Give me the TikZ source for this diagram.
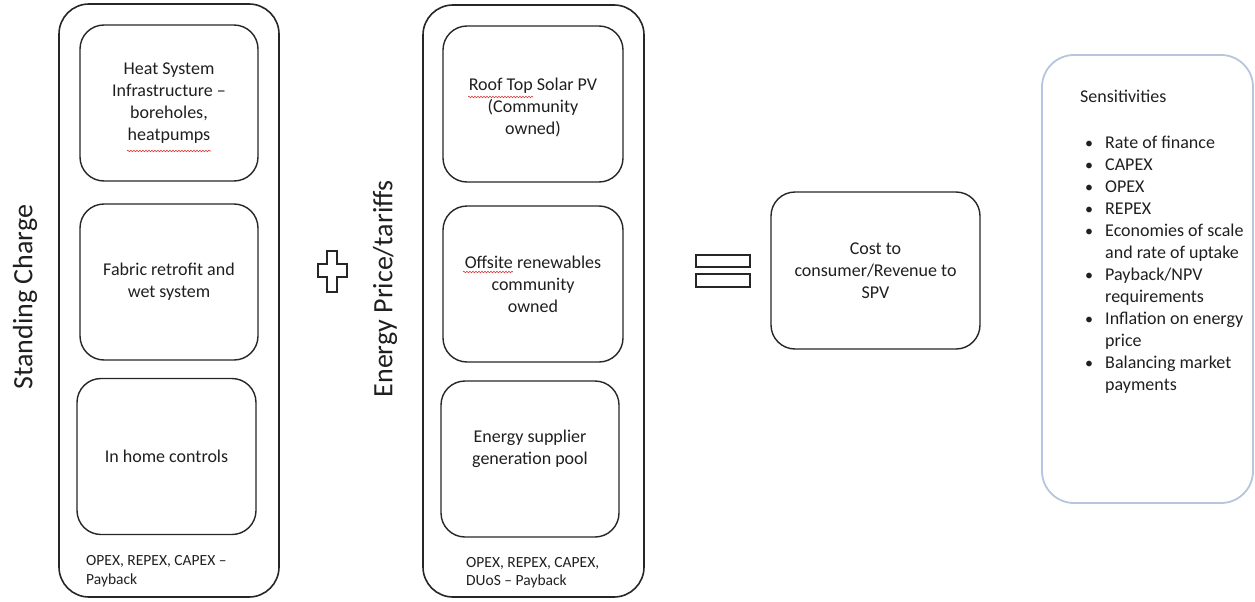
\documentclass[tikz,border=0pt]{standalone}
\usepackage{fontspec}
\setmainfont{Carlito}
\usetikzlibrary{decorations.pathmorphing}
\definecolor{sensblue}{RGB}{182,198,220}
\definecolor{spellred}{RGB}{215,60,60}
\begin{document}
\begin{tikzpicture}[x=1pt,y=-1pt,
  outerbox/.style={draw=black!85, line width=1.6pt, rounded corners=30pt, inner sep=0pt, minimum height=593pt},
  innerbox/.style={draw=black!85, line width=1.4pt, rounded corners=24pt, minimum width=178pt, minimum height=156pt, align=center, inner sep=0pt, font=\fontsize{18}{22}\selectfont, text=black!88},
  boxtext/.style={align=center, inner sep=0pt, font=\fontsize{18}{22}\selectfont, text=black!88},
  bigtext/.style={rotate=90, font=\fontsize{28}{32}\selectfont, text=black!88},
  smalltext/.style={anchor=west, align=left, font=\fontsize{15.5}{18.5}\selectfont, text=black!88, inner sep=0pt},
  sensbox/.style={draw=sensblue, line width=1.8pt, rounded corners=32pt, inner sep=0pt},
  senstext/.style={anchor=base west, font=\fontsize{18}{22}\selectfont, text=black!88, inner sep=0pt},
  bullettext/.style={anchor=base, font=\fontsize{16}{22}\selectfont, text=black!88, inner sep=0pt},
  symbolline/.style={draw=black!85, line width=1.4pt},
  spell/.style={draw=spellred, line width=0.6pt, decorate, decoration={snake, amplitude=0.8pt, segment length=3pt}}
]
\useasboundingbox (0,0) rectangle (1255,602);

% Standing charge column
\node[bigtext] (sc) at (25,297) {Standing Charge};
\node[outerbox, minimum width=220pt] (lout) at (169,300.5) {};
\node[innerbox] (l1) at (169,103) {Heat System\\Infrastructure --\\boreholes,\\heatpumps};
\node[innerbox] (l2) at (169,282) {Fabric retrofit and\\wet system};
\node[innerbox, minimum width=179pt] (l3) at (166.5,456.5) {In home controls};
\node[smalltext] (lnote) at (86,571) {OPEX, REPEX, CAPEX --\\Payback};
\draw[spell] (127,151) -- (211,151);

% plus sign
\draw[symbolline] (327,251) -- (337,251) -- (337,264) -- (347,264) -- (347,277) -- (337,277) -- (337,292) -- (327,292) -- (327,277) -- (318,277) -- (318,264) -- (327,264) -- cycle;

% Energy price column
\node[bigtext] (ep) at (385,289) {Energy Price/tariffs};
\node[outerbox, minimum width=221pt, minimum height=592pt] (rout) at (533.5,301) {};
\node[innerbox, minimum width=180pt] (r1) at (533,104) {};
\node[boxtext] (r1t) at ([yshift=-3pt]r1.center) {Roof Top Solar PV\\(Community\\owned)};
\node[innerbox, minimum width=180pt] (r2) at (533,284) {Offsite renewables\\community\\owned};
\node[innerbox] (r3) at (530,459) {};
\node[boxtext] (r3t) at ([yshift=10pt]r3.center) {Energy supplier\\generation pool};
\node[smalltext] (rnote) at (466,572.5) {OPEX, REPEX, CAPEX,\\DUoS -- Payback};
\draw[spell] (468,97) -- (533,97);
\draw[spell] (463,272) -- (513,272);

% equals sign
\draw[symbolline, line width=1.3pt] (696,255) rectangle (750,267);
\draw[symbolline, line width=1.3pt] (696,274) rectangle (750,287);

% result
\node[innerbox, minimum width=209pt, minimum height=157pt] (cost) at (875.5,270.5) {Cost to\\consumer/Revenue to\\SPV};

% sensitivities
\node[sensbox, minimum width=211pt, minimum height=448pt] (sens) at (1147.5,279) {};
\node[senstext] (senst) at (1080,102) {Sensitivities};
\foreach \b/\t [count=\i] in {1/{Rate of finance}, 1/{CAPEX}, 1/{OPEX}, 1/{REPEX}, 1/{Economies of scale}, 0/{and rate of uptake}, 1/{Payback/NPV}, 0/{requirements}, 1/{Inflation on energy}, 0/{price}, 1/{Balancing market}, 0/{payments}}{
  \node[senstext] (s\i) at (1105,{148+22*(\i-1)}) {\t};
  \ifnum\b=1 \node[bullettext] (b\i) at (1089,{148+22*(\i-1)}) {•};\fi
}
\end{tikzpicture}
\end{document}
